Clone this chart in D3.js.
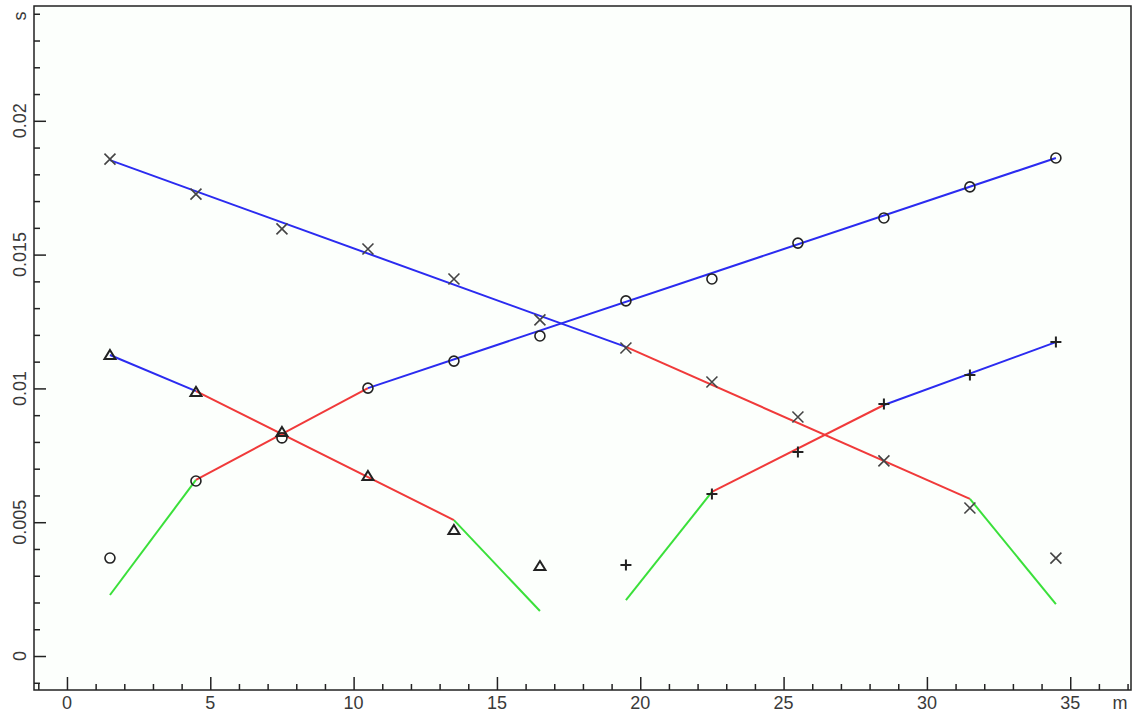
<!DOCTYPE html>
<html>
<head>
<meta charset="utf-8">
<script src="https://cdn.jsdelivr.net/npm/d3@7/dist/d3.min.js"></script>
<style>
html,body{margin:0;padding:0;background:#ffffff;}
svg{display:block;}
text{font-family:"Liberation Sans",Arial,sans-serif;font-size:18px;fill:#3a3a3a;}
</style>
</head>
<body>
<svg id="chart" width="1135" height="712"></svg>
<script>
// ---- data ----
const xTicks = [0, 5, 10, 15, 20, 25, 30, 35];
const yTicks = [0, 0.005, 0.01, 0.015, 0.02];
const yTickLabels = ["0", "0.005", "0.01", "0.015", "0.02"];
const xUnit = "m";
const yUnit = "s";

const xFull = [1.5, 4.5, 7.5, 10.5, 13.5, 16.5, 19.5, 22.5, 25.5, 28.5, 31.5, 34.5];
const xLeft = [1.5, 4.5, 7.5, 10.5, 13.5, 16.5];
const xRight = [19.5, 22.5, 25.5, 28.5, 31.5, 34.5];

const crossT = [0.01857, 0.01726, 0.01596, 0.01521, 0.01409, 0.01256, 0.01151, 0.01024, 0.00893, 0.00729, 0.00553, 0.00366];
const circleT = [0.00366, 0.00654, 0.00815, 0.01001, 0.01102, 0.01196, 0.01327, 0.01409, 0.01543, 0.01637, 0.01753, 0.01861];
const triangleT = [0.01125, 0.00987, 0.00837, 0.00673, 0.00471, 0.00336];
const plusT = [0.00340, 0.00605, 0.00762, 0.00942, 0.01050, 0.01173];

// fitted line vertices [x, t]
const crossLine = [[1.5, 0.01853], [19.5, 0.01155], [31.5, 0.00587], [34.5, 0.00194]];
const circleLine = [[1.5, 0.00228], [4.5, 0.00658], [10.5, 0.01001], [34.5, 0.01861]];
const triangleLine = [[1.5, 0.01125], [4.5, 0.00990], [13.5, 0.00508], [16.5, 0.00168]];
const plusLine = [[19.5, 0.00209], [22.5, 0.00613], [28.5, 0.00938], [34.5, 0.01173]];
const crossColors = ["blue", "red", "green"];
const circleColors = ["green", "red", "blue"];
const triangleColors = ["blue", "red", "green"];
const plusColors = ["green", "red", "blue"];

// ---- layout ----
const palette = {blue: "#2b2bf0", red: "#f03a3a", green: "#3ae03a"};
const L = 34, T = 6, R = 1131, B = 690;
const x = d3.scaleLinear().domain([-1.15, 37.12]).range([L, R]);
const y = d3.scaleLinear().domain([-0.00127, 0.02429]).range([B, T]);

const svg = d3.select("#chart");
svg.append("rect").attr("x", 0).attr("y", 0).attr("width", 1135).attr("height", 712).attr("fill", "#ffffff");
svg.append("rect").attr("x", L).attr("y", T).attr("width", R - L).attr("height", B - T)
  .attr("fill", "#fcfffc").attr("stroke", "#222").attr("stroke-width", 1.5);

// minor ticks
const xMinor = d3.range(-1, 38, 1).filter(v => v % 5 !== 0);
const yMinor = d3.range(-1, 25, 1).map(v => v / 1000).filter(v => Math.round(v * 1000) % 5 !== 0);

const xAxisMajor = d3.axisTop(x).tickValues(xTicks).tickSize(13).tickFormat("");
const xAxisMinor = d3.axisTop(x).tickValues(xMinor).tickSize(6).tickFormat("");
const gx1 = svg.append("g").attr("transform", `translate(0,${B})`).call(xAxisMajor);
const gx2 = svg.append("g").attr("transform", `translate(0,${B})`).call(xAxisMinor);
[gx1, gx2].forEach(g => { g.select(".domain").remove(); g.selectAll("line").attr("stroke", "#222").attr("stroke-width", 1.5); });

const yAxisMajor = d3.axisRight(y).tickValues(yTicks).tickSize(12).tickFormat("");
const yAxisMinor = d3.axisRight(y).tickValues(yMinor).tickSize(6).tickFormat("");
const gy1 = svg.append("g").attr("transform", `translate(${L},0)`).call(yAxisMajor);
const gy2 = svg.append("g").attr("transform", `translate(${L},0)`).call(yAxisMinor);
[gy1, gy2].forEach(g => { g.select(".domain").remove(); g.selectAll("line").attr("stroke", "#222").attr("stroke-width", 1.5); });

// tick labels
svg.selectAll(".xl").data(xTicks).enter().append("text")
  .attr("x", d => x(d)).attr("y", 709).attr("text-anchor", "middle").text(d => d);
svg.append("text").attr("x", 1120).attr("y", 709).attr("text-anchor", "middle").text(xUnit);

svg.selectAll(".yl").data(yTicks).enter().append("text")
  .attr("transform", (d, i) => `translate(26,${y(d)}) rotate(-90)`)
  .attr("text-anchor", "middle").text((d, i) => yTickLabels[i]);
svg.append("text").attr("transform", `translate(26,16) rotate(-90)`).attr("text-anchor", "middle").text(yUnit);

// lines
const plot = svg.append("g");
function drawSegments(pts, colors) {
  for (let i = 0; i < pts.length - 1; i++) {
    plot.append("line")
      .attr("x1", x(pts[i][0])).attr("y1", y(pts[i][1]))
      .attr("x2", x(pts[i + 1][0])).attr("y2", y(pts[i + 1][1]))
      .attr("stroke", palette[colors[i]]).attr("stroke-width", 2);
  }
}
drawSegments(crossLine, crossColors);
drawSegments(circleLine, circleColors);
drawSegments(triangleLine, triangleColors);
drawSegments(plusLine, plusColors);

// markers
const mk = svg.append("g").attr("fill", "none").attr("stroke", "#222").attr("stroke-width", 1.6);
xFull.forEach((xv, i) => {
  const cx = x(xv), cy = y(crossT[i]), s = 5.5;
  mk.append("path").attr("d", `M${cx - s},${cy - s}L${cx + s},${cy + s}M${cx - s},${cy + s}L${cx + s},${cy - s}`).attr("stroke", "#444");
});
xFull.forEach((xv, i) => {
  mk.append("circle").attr("cx", x(xv)).attr("cy", y(circleT[i])).attr("r", 5);
});
xLeft.forEach((xv, i) => {
  const cx = x(xv), cy = y(triangleT[i]);
  mk.append("path").attr("d", `M${cx},${cy - 5}L${cx + 5.5},${cy + 4}L${cx - 5.5},${cy + 4}Z`).attr("stroke-width", 2);
});
xRight.forEach((xv, i) => {
  const cx = x(xv), cy = y(plusT[i]), s = 5.5;
  mk.append("path").attr("d", `M${cx - s},${cy}L${cx + s},${cy}M${cx},${cy - s}L${cx},${cy + s}`).attr("stroke-width", 2);
});
</script>
</body>
</html>
